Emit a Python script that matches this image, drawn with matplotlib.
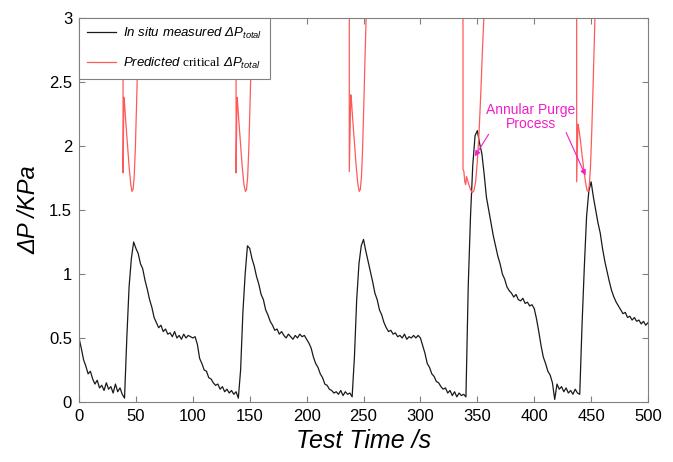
import numpy as np
import matplotlib.pyplot as plt

plt.rcParams['font.family'] = ['Liberation Sans', 'DejaVu Sans']
plt.rcParams['mathtext.fontset'] = 'custom'
plt.rcParams['mathtext.rm'] = 'Liberation Serif'
plt.rcParams['mathtext.it'] = 'Liberation Sans:italic'
plt.rcParams['mathtext.bf'] = 'Liberation Sans:bold'

# measured dP, one value every 2 s (0..500 s)
t_meas = np.arange(0, 501, 2)
p_meas = [
    0.50, 0.42, 0.33, 0.28, 0.22, 0.24, 0.18, 0.14, 0.17, 0.11,
    0.13, 0.09, 0.15, 0.10, 0.12, 0.07, 0.14, 0.08, 0.11, 0.06,
    0.03, 0.50, 0.90, 1.12, 1.25, 1.20, 1.16, 1.08, 1.04, 0.95,
    0.88, 0.80, 0.74, 0.66, 0.62, 0.58, 0.60, 0.55, 0.57, 0.53,
    0.54, 0.51, 0.55, 0.50, 0.52, 0.49, 0.53, 0.50, 0.52, 0.51,
    0.50, 0.51, 0.45, 0.34, 0.30, 0.25, 0.24, 0.19, 0.18, 0.15,
    0.13, 0.14, 0.10, 0.12, 0.08, 0.10, 0.07, 0.09, 0.06, 0.08,
    0.03, 0.25, 0.70, 1.00, 1.22, 1.20, 1.12, 1.06, 0.98, 0.92,
    0.84, 0.80, 0.72, 0.68, 0.63, 0.60, 0.56, 0.57, 0.53, 0.55,
    0.52, 0.50, 0.53, 0.51, 0.49, 0.52, 0.50, 0.53, 0.51, 0.52,
    0.49, 0.46, 0.42, 0.35, 0.30, 0.27, 0.22, 0.19, 0.14, 0.13,
    0.10, 0.09, 0.07, 0.08, 0.06, 0.09, 0.05, 0.08, 0.06, 0.07,
    0.04, 0.35, 0.80, 1.08, 1.22, 1.27, 1.18, 1.10, 1.02, 0.94,
    0.85, 0.80, 0.72, 0.68, 0.62, 0.58, 0.55, 0.56, 0.53, 0.54,
    0.51, 0.52, 0.50, 0.53, 0.49, 0.51, 0.50, 0.52, 0.50, 0.52,
    0.50, 0.44, 0.38, 0.30, 0.27, 0.22, 0.20, 0.16, 0.15, 0.12,
    0.10, 0.11, 0.07, 0.09, 0.05, 0.08, 0.04, 0.07, 0.05, 0.06,
    0.04, 0.90, 1.45, 1.85, 2.08, 2.12, 2.02, 1.94, 1.78, 1.60,
    1.50, 1.40, 1.30, 1.22, 1.14, 1.08, 1.00, 0.96, 0.90, 0.87,
    0.85, 0.82, 0.84, 0.80, 0.79, 0.81, 0.77, 0.78, 0.75, 0.76,
    0.73, 0.65, 0.55, 0.44, 0.35, 0.30, 0.24, 0.21, 0.15, 0.02,
    0.14, 0.10, 0.12, 0.08, 0.11, 0.07, 0.09, 0.06, 0.10, 0.07,
    0.06, 0.60, 1.05, 1.45, 1.65, 1.72, 1.60, 1.50, 1.40, 1.32,
    1.20, 1.10, 1.02, 0.94, 0.87, 0.82, 0.78, 0.75, 0.72, 0.69,
    0.70, 0.66, 0.67, 0.64, 0.66, 0.63, 0.64, 0.61, 0.63, 0.60,
    0.62,
]

# predicted critical dP, only around each purge, NaN splits the pieces
t_pred = [
    38.7, 38.7, 39.4, 39.8, 41.0, 42.5, 44.0, 45.5, 46.5, 47.5, 48.5, 49.5, 50.5, 51.5, 52.5, 53.5, np.nan,
    138.0, 138.0, 138.8, 139.2, 140.4, 141.9, 143.4, 144.9, 146.2, 147.2, 148.2, 149.2, 150.2, 151.2, 152.2, 153.2, np.nan,
    237.5, 237.5, 238.8, 239.2, 240.4, 241.9, 243.4, 244.9, 246.2, 247.2, 248.2, 249.2, 250.2, 251.2, 252.3, 253.5, np.nan,
    337.4, 337.4, 338.2, 339.0, 339.8, 340.5, 341.2, 342.5, 344.0, 345.5, 347.0, 348.5, 350.0, 351.5, 353.0, 354.5, 356.0, 357.0, np.nan,
    437.3, 437.3, 438.4, 439.0, 440.5, 442.0, 443.5, 445.0, 446.5, 447.5, 448.5, 449.5, 450.5, 451.5, 452.5, 453.5, 454.5,
]
p_pred = [
    3.3, 1.79, 2.38, 2.36, 2.20, 2.02, 1.84, 1.70, 1.645, 1.66, 1.76, 1.98, 2.30, 2.65, 3.0, 3.3, np.nan,
    3.3, 1.79, 2.38, 2.36, 2.20, 2.02, 1.84, 1.70, 1.645, 1.66, 1.76, 1.98, 2.30, 2.65, 3.0, 3.3, np.nan,
    3.3, 1.80, 2.40, 2.38, 2.22, 2.04, 1.86, 1.71, 1.645, 1.66, 1.76, 1.98, 2.30, 2.65, 3.0, 3.3, np.nan,
    3.3, 1.82, 1.80, 1.72, 1.70, 1.76, 1.74, 1.70, 1.66, 1.635, 1.65, 1.72, 1.88, 2.10, 2.40, 2.75, 3.05, 3.3, np.nan,
    3.3, 1.72, 2.17, 2.15, 2.05, 1.93, 1.82, 1.72, 1.65, 1.645, 1.70, 1.85, 2.10, 2.40, 2.72, 3.05, 3.3,
]

mag = '#f21ec8'
grey = '#808080'

fig = plt.figure(figsize=(6.73, 4.62), dpi=100)
ax = fig.add_axes([0.1174, 0.1299, 0.8455, 0.8312])

ax.plot(t_meas, p_meas, color='#1a1a1a', lw=0.9,
        label='In situ measured ΔP$_{total}$')
ax.plot(t_pred, p_pred, color='#ff5a5a', lw=0.9,
        label=r'$\mathit{Predicted}$ $\mathrm{critical}$ ΔP$_{total}$')

ax.set_xlim(0, 500)
ax.set_ylim(0, 3)
ax.set_xticks([0, 50, 100, 150, 200, 250, 300, 350, 400, 450, 500])
ax.set_yticks([0, 0.5, 1, 1.5, 2, 2.5, 3])
ax.set_yticklabels(['0', '0.5', '1', '1.5', '2', '2.5', '3'])
ax.tick_params(direction='in', top=True, right=True, length=4, color=grey,
               labelsize=12, pad=5)
for s in ax.spines.values():
    s.set_color(grey)

ax.set_xlabel('Test Time /s', fontsize=18, fontstyle='italic', labelpad=4)
ax.set_ylabel('ΔP /KPa', fontsize=17, fontstyle='italic', labelpad=6)

leg = ax.legend(loc='upper left', borderaxespad=0, fancybox=False,
                framealpha=1, edgecolor=grey, handlelength=2.2,
                handletextpad=0.55, labelspacing=1.1, borderpad=0.6,
                prop={'size': 9.5, 'style': 'italic'})
leg.get_frame().set_linewidth(0.8)
leg.set_zorder(5)

ax.text(397, 2.23, 'Annular Purge\nProcess', color=mag, fontsize=10,
        ha='center', va='center', linespacing=1.0)
ax.annotate('', xy=(346.5, 1.90), xytext=(361.2, 2.11),
            arrowprops=dict(arrowstyle='-|>', color=mag, lw=0.8, mutation_scale=8))
ax.annotate('', xy=(446.1, 1.75), xytext=(427, 2.125),
            arrowprops=dict(arrowstyle='-|>', color=mag, lw=0.8, mutation_scale=8))

plt.savefig('out.png', dpi=100)
